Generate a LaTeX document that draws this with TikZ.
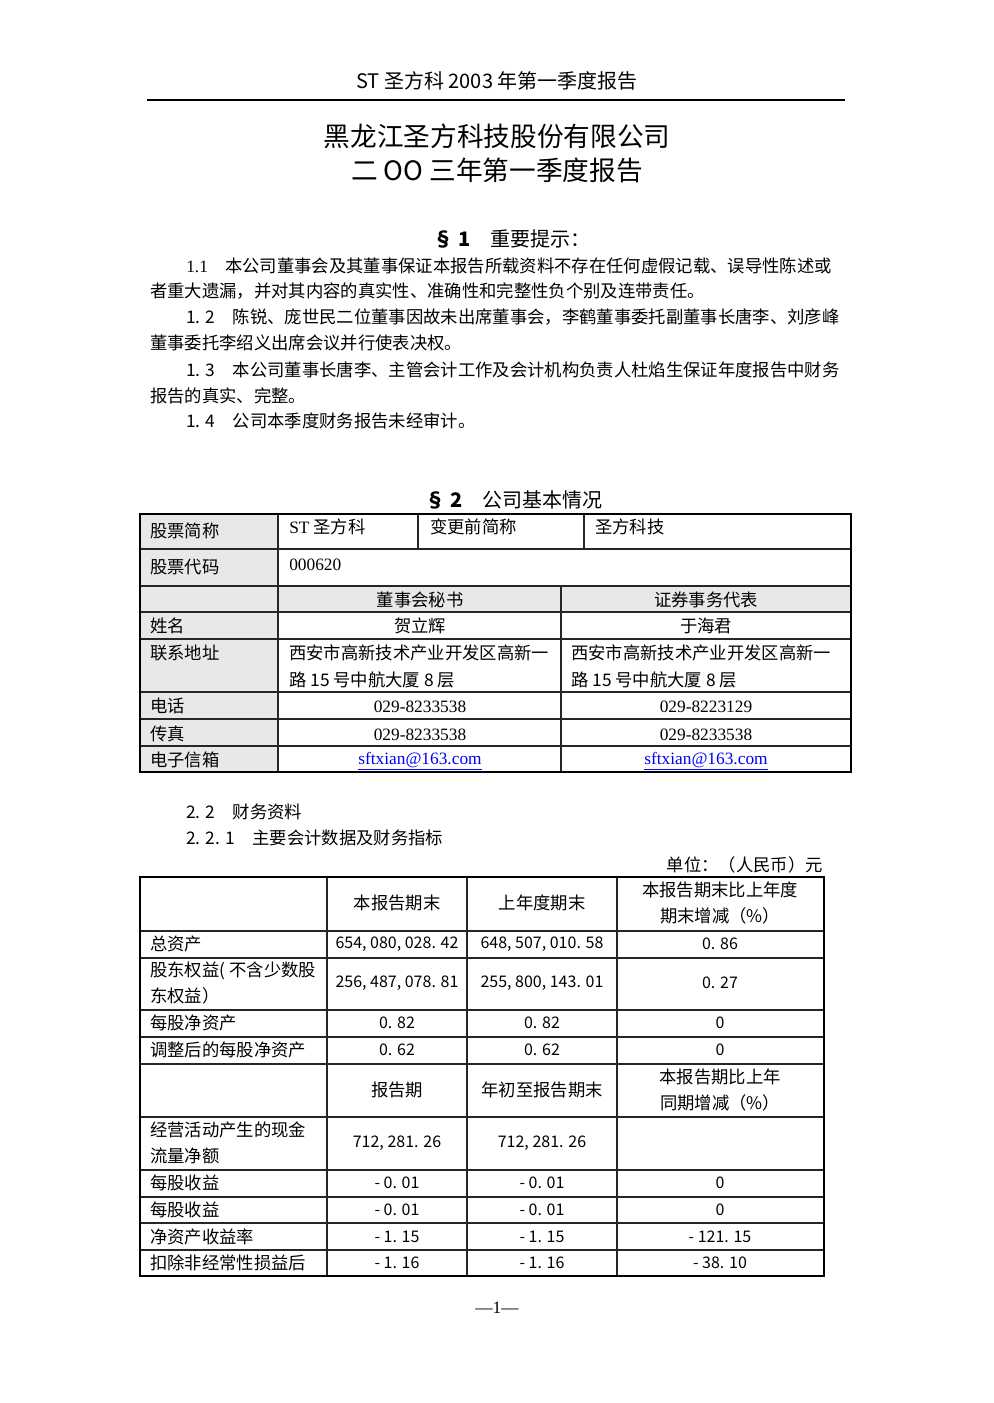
\documentclass[tikz,border=0pt]{standalone}
\usepackage{fontspec}
\setmainfont{Liberation Serif}
\newfontfamily\cjk{Noto Sans CJK SC}
\usetikzlibrary{positioning}
\definecolor{cellgray}{RGB}{232,232,232}
\definecolor{linkblue}{RGB}{0,0,238}
\tikzset{
	every node/.style={inner sep=0pt},
	body/.style={anchor=west, font=\cjk\fontsize{13}{15}\selectfont},
	cell/.style={font=\cjk\fontsize{13}{15}\selectfont},
	lcell/.style={cell, anchor=west},
	dcell/.style={font=\cjk\fontsize{12}{15}\selectfont},
	num/.style={font=\fontsize{13}{15}\selectfont},
	head/.style={font=\cjk\fontsize{15}{17}\selectfont},
	grid/.style={line width=1.1pt, black!85},
}
\newcommand{\mail}{\textcolor{linkblue}{\underline{sftxian@163.com}}}

\begin{document}
\begin{tikzpicture}[x=0.75pt, y=-0.75pt]
			\useasboundingbox (0,0) rectangle (993,1403);
			
			% page header
			\node[head] (PAGEHEAD) at (497,81) {ST 圣方科 2003 年第一季度报告};
			\draw[line width=0.9pt] (147,100) -- (845,100);
			\node[font=\cjk\fontsize{20}{23}\selectfont] (TITLE1) at (497,136) {黑龙江圣方科技股份有限公司};
			\node[font=\cjk\fontsize{20}{23}\selectfont] (TITLE2) at (497,170) {二 OO 三年第一季度报告};
			
			% section 1
			\node[head] (SEC1) at (512,239) {\textbf{§ 1}\quad 重要提示：};
			\node[body] (P11a) at (186,266) {{\rmfamily 1.1}\quad 本公司董事会及其董事保证本报告所载资料不存在任何虚假记载、误导性陈述或};
			\node[body] (P11b) at (150,291) {者重大遗漏，并对其内容的真实性、准确性和完整性负个别及连带责任。};
			\node[body] (P12a) at (186,317) {1. 2\quad 陈锐、庞世民二位董事因故未出席董事会，李鹤董事委托副董事长唐李、刘彦峰};
			\node[body] (P12b) at (150,343) {董事委托李绍义出席会议并行使表决权。};
			\node[body] (P13a) at (186,370) {1. 3\quad 本公司董事长唐李、主管会计工作及会计机构负责人杜焰生保证年度报告中财务};
			\node[body] (P13b) at (150,396) {报告的真实、完整。};
			\node[body] (P14) at (186,421) {1. 4\quad 公司本季度财务报告未经审计。};
			
			% section 2, table 1
			\node[head] (SEC2) at (514,500) {\textbf{§ 2}\quad 公司基本情况};
			\fill[cellgray] (140,514) rectangle (278,772);
			\fill[cellgray] (278,586) rectangle (851,612);
			\foreach \y in {549,586,612,639,692,719,746}
				\draw[grid] (140,\y) -- (851,\y);
			\draw[grid] (278,514) -- (278,772);
			\draw[grid] (418,514) -- (418,549);
			\draw[grid] (584,514) -- (584,549);
			\draw[grid] (561,586) -- (561,772);
			\draw[line width=1.4pt] (140,514) rectangle (851,772);
			
			\node[lcell] (T1L1) at (150,531) {股票简称};
			\node[lcell] (T1L2) at (150,567) {股票代码};
			\node[lcell] (T1L3) at (150,626) {姓名};
			\node[lcell] (T1L4) at (150,653) {联系地址};
			\node[lcell] (T1L5) at (150,706) {电话};
			\node[lcell] (T1L6) at (150,734) {传真};
			\node[lcell] (T1L7) at (150,760) {电子信箱};
			\node[lcell] (SNAME) at (289,527) {{\rmfamily ST} 圣方科};
			\node[lcell] (OLDNAMEL) at (430,527) {变更前简称};
			\node[lcell] (OLDNAME) at (595,527) {圣方科技};
			\node[num, anchor=west] (CODE) at (289,565) {000620};
			\node[cell] (SECY) at (420,600) {董事会秘书};
			\node[cell] (REPR) at (706,600) {证券事务代表};
			\node[cell] (SECYN) at (420,626) {贺立辉};
			\node[cell] (REPRN) at (706,626) {于海君};
			\foreach \x/\n in {289/SECYA,571/REPRA} {
				\node[lcell] (\n1) at (\x,653) {西安市高新技术产业开发区高新一};
				\node[lcell] (\n2) at (\x,680) {路 15 号中航大厦 8 层};
			}
			\node[num] (SECYT) at (420,707) {029-8233538};
			\node[num] (REPRT) at (706,707) {029-8223129};
			\node[num] (SECYF) at (420,735) {029-8233538};
			\node[num] (REPRF) at (706,735) {029-8233538};
			\node[num] (SECYM) at (420,761) {\mail};
			\node[num] (REPRM) at (706,761) {\mail};
			
			% 2.2, table 2
			\node[body] (S22) at (186,812) {2. 2\quad 财务资料};
			\node[body] (S221) at (186,838) {2. 2. 1\quad 主要会计数据及财务指标};
			\node[cell, anchor=east] (UNIT) at (823,865) {单位：（人民币）元};
			\foreach \y in {931,958,1010,1037,1064,1117,1170,1197,1223,1250}
				\draw[grid] (140,\y) -- (824,\y);
			\foreach \x in {327,467,617}
				\draw[grid] (\x,877) -- (\x,1276);
			\draw[line width=1.4pt] (140,877) rectangle (824,1276);
			
			\node[cell] (H1A) at (397,903) {本报告期末};
			\node[cell] (H1B) at (542,903) {上年度期末};
			\node[cell, align=center, font=\cjk\fontsize{13}{19}\selectfont] (H1C) at (720,903) {本报告期末比上年度\\期末增减（\%）};
			\node[cell] (H2A) at (397,1090) {报告期};
			\node[cell] (H2B) at (542,1090) {年初至报告期末};
			\node[cell, align=center, font=\cjk\fontsize{13}{19}\selectfont] (H2C) at (720,1090) {本报告期比上年\\同期增减（\%）};
			\node[lcell, align=left, font=\cjk\fontsize{13}{19}\selectfont] (R2L) at (150,983) {股东权益( 不含少数股\\东权益）};
			\node[lcell, align=left, font=\cjk\fontsize{13}{19}\selectfont] (R5L) at (150,1143) {经营活动产生的现金\\流量净额};
			\foreach \y/\n/\l/\a/\b/\c in {
				944/R1/总资产/{654, 080, 028. 42}/{648, 507, 010. 58}/{0. 86},
				983/R2//{256, 487, 078. 81}/{255, 800, 143. 01}/{0. 27},
				1023/R3/每股净资产/{0. 82}/{0. 82}/0,
				1050/R4/调整后的每股净资产/{0. 62}/{0. 62}/0,
				1143/R5//{712, 281. 26}/{712, 281. 26}/{},
				1183/R6/每股收益/{- 0. 01}/{- 0. 01}/0,
				1210/R7/每股收益/{- 0. 01}/{- 0. 01}/0,
				1237/R8/净资产收益率/{- 1. 15}/{- 1. 15}/{- 121. 15},
				1263/R9/扣除非经常性损益后/{- 1. 16}/{- 1. 16}/{- 38. 10}} {
				\node[lcell] (\n) at (150,\y) {\l};
				\node[dcell] (\n A) at (397,\y) {\a};
				\node[dcell] (\n B) at (542,\y) {\b};
				\node[dcell] (\n C) at (720,\y) {\c};
			}
			
			\node[num] (FOOT) at (497,1308) {—1—};
			
		\end{tikzpicture}
\end{document}
